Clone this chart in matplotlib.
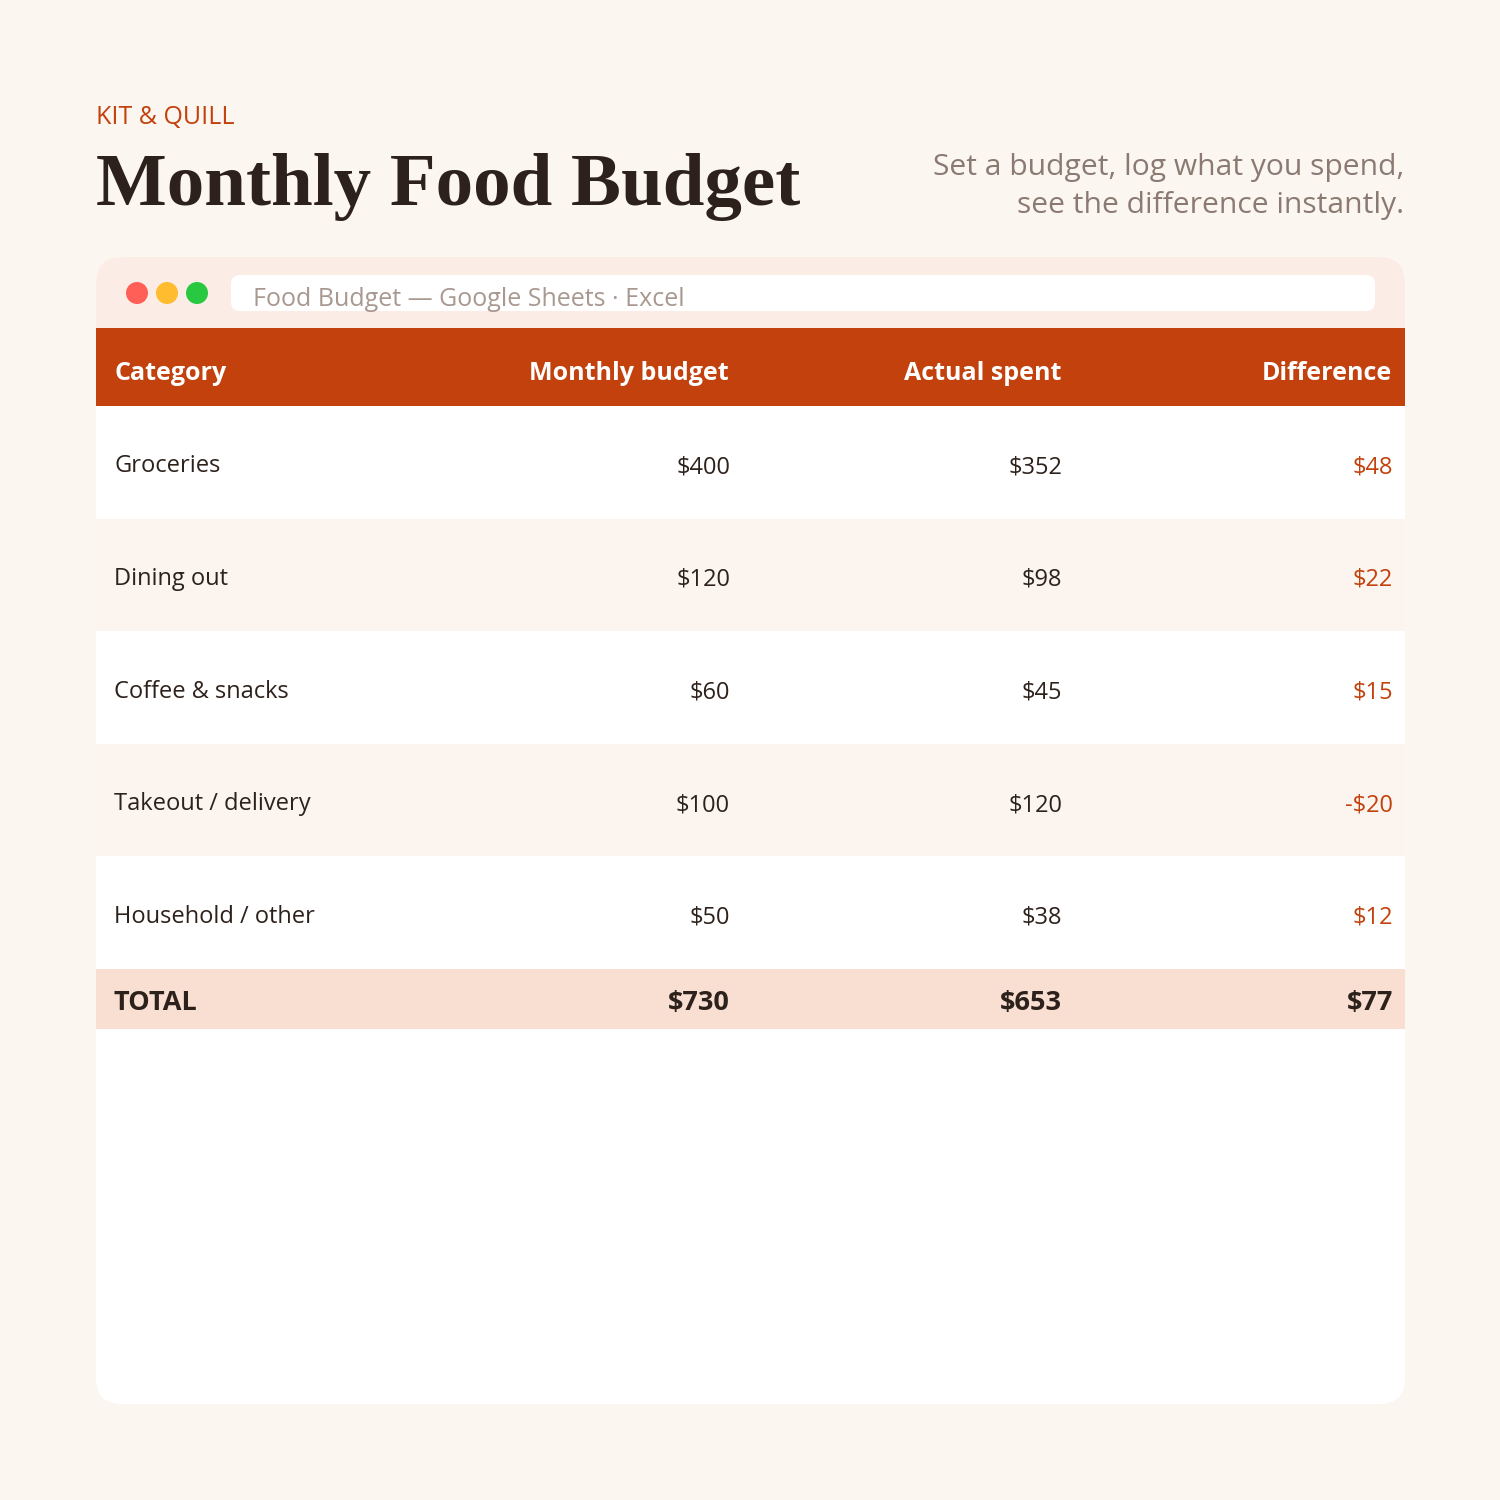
import matplotlib
matplotlib.use("Agg")
import matplotlib.pyplot as plt
from matplotlib.patches import FancyBboxPatch, Rectangle, Circle

# ---- data ----
brand = "KIT & QUILL"
title = "Monthly Food Budget"
subtitle = ["Set a budget, log what you spend,", "see the difference instantly."]
window_title = "Food Budget \u2014 Google Sheets \u00b7 Excel"
headers = ["Category", "Monthly budget", "Actual spent", "Difference"]
categories = ["Groceries", "Dining out", "Coffee & snacks", "Takeout / delivery", "Household / other"]
budget = [400, 120, 60, 100, 50]
actual = [352, 98, 45, 120, 38]
difference = [48, 22, 15, -20, 12]
total_label = "TOTAL"
total_budget = 730
total_actual = 653
total_diff = 77

# ---- style ----
BG = "#FCF6F1"
ORANGE = "#C2410C"
DARK = "#2D211C"
GREY = "#8A7A72"
PEACH_BAR = "#FBEDE6"
ROW_ALT = "#FCF4EF"
TOTAL_BG = "#F9DFD2"
SANS = ["Open Sans", "DejaVu Sans"]
SERIF = ["Liberation Serif", "DejaVu Serif"]

fig = plt.figure(figsize=(15, 15), dpi=100, facecolor=BG)
ax = fig.add_axes([0, 0, 1, 1])
ax.set_xlim(0, 1500)
ax.set_ylim(1500, 0)
ax.axis("off")
ax.set_facecolor(BG)

def money(v):
    return ("-$%d" % abs(v)) if v < 0 else ("$%d" % v)

DY = 3  # vertical nudge for text baseline alignment

# header text
ax.text(96, 114 + DY, brand, color=ORANGE, fontsize=18, family=SANS, va="center", ha="left")
ax.text(96, 183 + 4, title, color=DARK, fontsize=54, family=SERIF, weight="bold", va="center", ha="left")
ax.text(1404, 164 + DY, subtitle[0], color=GREY, fontsize=21.6, family=SANS, va="center", ha="right")
ax.text(1404, 203 + DY, subtitle[1], color=GREY, fontsize=21.6, family=SANS, va="center", ha="right")

# card
L, R, T, B = 96, 1405, 257, 1404
ax.add_patch(FancyBboxPatch((L, T), R - L, B - T, boxstyle="round,pad=0,rounding_size=26",
                            fc="white", ec="none"))
ax.add_patch(FancyBboxPatch((L, T), R - L, 110, boxstyle="round,pad=0,rounding_size=26",
                            fc=PEACH_BAR, ec="none"))
# address bar
ax.add_patch(FancyBboxPatch((231, 275), 1375 - 231, 36, boxstyle="round,pad=0,rounding_size=9",
                            fc="white", ec="none"))
for cx, col in zip([137, 167, 197], ["#FF5F57", "#FEBC2E", "#28C840"]):
    ax.add_patch(Circle((cx, 293), 11, fc=col, ec="none"))
ax.text(253, 296 + DY, window_title, color="#A89890", fontsize=18, family=SANS, va="center", ha="left")

# table header
hdr_top, hdr_bot = 328, 406
ax.add_patch(Rectangle((L, hdr_top), R - L, hdr_bot - hdr_top, fc=ORANGE, ec="none"))
col_x = [114, 729, 1061, 1392]
aligns = ["left", "right", "right", "right"]
for h, x, a in zip(headers, col_x, aligns):
    ax.text(x, 370 + DY, h, color="white", fontsize=18, family=SANS, weight="bold", va="center", ha=a)

# rows
row_h = 112.6
for i, cat in enumerate(categories):
    top = hdr_bot + i * row_h
    fc = "white" if i % 2 == 0 else ROW_ALT
    ax.add_patch(Rectangle((L, top), R - L, row_h, fc=fc, ec="none"))
    yc = top + row_h / 2 + 2 + DY
    ax.text(col_x[0], yc - 1, cat, color=DARK, fontsize=17, family=SANS, va="center", ha="left")
    ax.text(col_x[1] + 1, yc, money(budget[i]), color=DARK, fontsize=17, family=SANS, va="center", ha="right")
    ax.text(col_x[2] + 1, yc, money(actual[i]), color=DARK, fontsize=17, family=SANS, va="center", ha="right")
    ax.text(col_x[3] + 1, yc, money(difference[i]), color=ORANGE, fontsize=17, family=SANS, va="center", ha="right")

tot_top = hdr_bot + len(categories) * row_h
tot_bot = 1029
ax.add_patch(Rectangle((L, tot_top), R - L, tot_bot - tot_top, fc=TOTAL_BG, ec="none"))
ty = (tot_top + tot_bot) / 2 + 1 + DY
for txt, x, a in zip([total_label, money(total_budget), money(total_actual), money(total_diff)],
                     [col_x[0], col_x[1] + 1, col_x[2] + 1, col_x[3] + 1], aligns):
    ax.text(x, ty, txt, color=DARK, fontsize=19.5, family=SANS, weight="bold", va="center", ha=a)

fig.savefig("out.png", dpi=100, facecolor=BG)
